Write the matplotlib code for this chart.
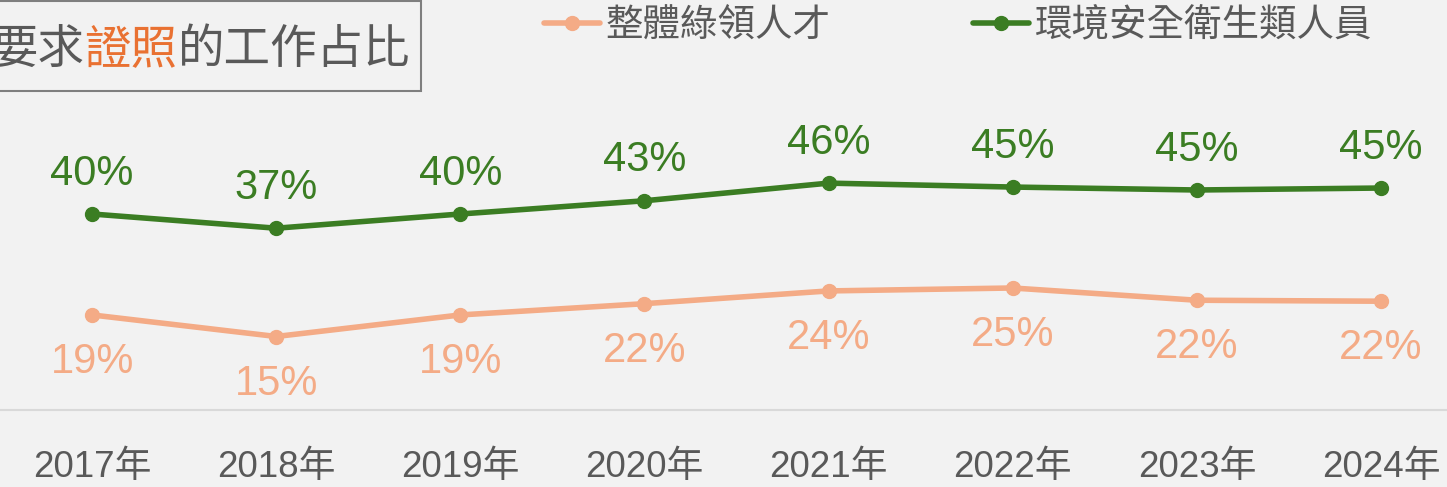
import matplotlib.pyplot as plt
from matplotlib.patches import Rectangle

years = ["2017年", "2018年", "2019年", "2020年", "2021年", "2022年", "2023年", "2024年"]
overall = [19.4, 15.0, 19.4, 21.7, 24.3, 24.9, 22.4, 22.2]
env_safety = [40.0, 37.1, 40.0, 42.7, 46.3, 45.5, 44.9, 45.3]
overall_labels = ["19%", "15%", "19%", "22%", "24%", "25%", "22%", "22%"]
env_labels = ["40%", "37%", "40%", "43%", "46%", "45%", "45%", "45%"]

BG = "#f2f2f2"
GREEN = "#3b7d23"
ORANGE = "#f4ab86"
GREY = "#595959"
CJK = ["Liberation Sans", "Noto Sans CJK TC", "DejaVu Sans"]

W, H, DPI = 1447, 487, 100
fig = plt.figure(figsize=(W / DPI, H / DPI), dpi=DPI, facecolor=BG)

# axes stretch a bit past the right edge, like the cropped original
ax = fig.add_axes([0 / W, (H - 410) / H, 1473 / W, 343 / H])
ax.set_facecolor(BG)
x = list(range(len(years)))

ax.plot(x, overall, color=ORANGE, lw=4, marker="o", ms=10, label="整體綠領人才", solid_capstyle="round")
ax.plot(x, env_safety, color=GREEN, lw=4, marker="o", ms=10, label="環境安全衛生類人員", solid_capstyle="round")

for i in x:
    ax.annotate(env_labels[i], (i, env_safety[i]), xytext=(0, 29), textcoords="offset points",
                ha="center", va="center", fontsize=30, color=GREEN, family=CJK)
    ax.annotate(overall_labels[i], (i, overall[i]), xytext=(0, -34), textcoords="offset points",
                ha="center", va="center", fontsize=30, color=ORANGE, family=CJK)

ax.set_xlim(-0.5, len(years) - 0.5)
ax.set_ylim(0, 70)
ax.set_yticks([])
ax.set_xticks(x)
ax.set_xticklabels(years, fontsize=26.5, color=GREY, family=CJK)
ax.tick_params(axis="x", length=0, pad=29)
for s in ["top", "right", "left"]:
    ax.spines[s].set_visible(False)
ax.spines["bottom"].set_color("#d9d9d9")
ax.spines["bottom"].set_linewidth(1.5)

leg = fig.legend(loc="center", bbox_to_anchor=(958 / W, 1 - 26 / H), ncol=2, frameon=False,
                 prop={"family": CJK, "size": 27, "weight": "medium"}, handlelength=1.5,
                 handletextpad=0.15, columnspacing=3.8)
for t in leg.get_texts():
    t.set_color(GREY)

# title box, partly cut off on the left
fig.patches.append(Rectangle((-10 / W, 1 - 91 / H), 431 / W, 90 / H, transform=fig.transFigure,
                             facecolor=BG, edgecolor="#7f7f7f", lw=1.5))
fs = 33.5
cw = fs * DPI / 72
ty = 1 - 50 / H
right = 410
tk = dict(ha="right", va="center", fontsize=fs, family="Noto Sans CJK TC", weight="medium")
fig.text(right / W, ty, "的工作占比", color=GREY, **tk)
fig.text((right - 5 * cw) / W, ty, "證照", color="#e97132", **tk)
fig.text((right - 7 * cw) / W, ty, "要求", color=GREY, **tk)

fig.savefig("out.png", dpi=DPI, facecolor=BG)
